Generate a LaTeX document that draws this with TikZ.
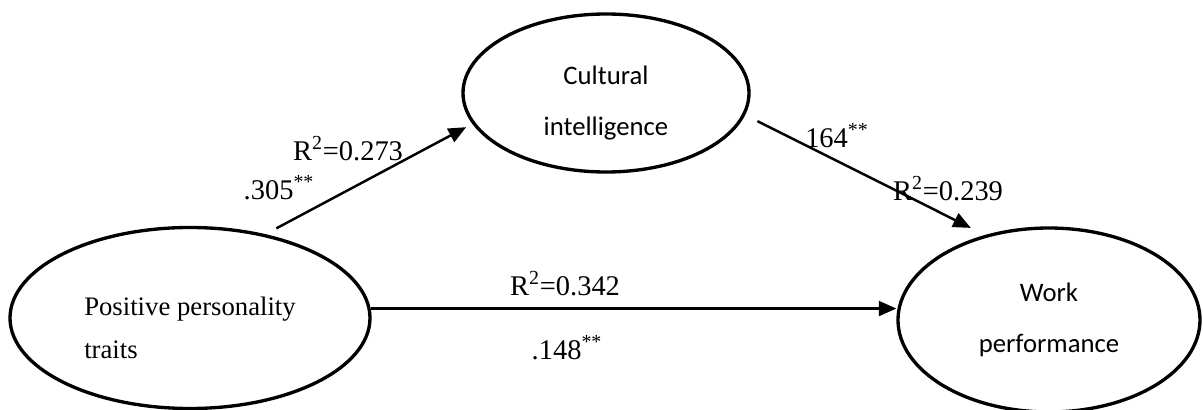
\documentclass[tikz,border=0pt]{standalone}
\usepackage{fontspec}
\setmainfont{Liberation Serif}
\newfontfamily\calibri{Carlito}
\usetikzlibrary{arrows.meta,shapes.geometric,positioning,calc}

\begin{document}
\begin{tikzpicture}[
  latent/.style={draw, ellipse, line width=1.9pt, inner sep=0pt},
  inner/.style={align=center, font=\calibri\fontsize{15.2}{29}\selectfont},
  note/.style={font=\fontsize{16.2}{19}\selectfont, inner sep=0pt},
  arr/.style={-{Triangle[length=10pt,width=8.5pt]}, line width=1.4pt}
]
\useasboundingbox (0,0) rectangle (24.06,-8.2);

\node[latent, minimum width=7.2cm, minimum height=3.62cm,
  label={[name=ppttext, align=left, font=\fontsize{15.2}{24.4}\selectfont, yshift=-0.19cm]center:Positive personality\\traits}]
  (ppt) at (3.8,-6.36) {};
\node[latent, minimum width=5.72cm, minimum height=3.16cm,
  label={[name=citext, inner, yshift=-0.21cm]center:Cultural\\intelligence}]
  (ci) at (12.12,-1.86) {};
\node[latent, minimum width=6.04cm, minimum height=3.68cm,
  label={[name=wptext, inner]center:Work\\performance}]
  (wp) at (20.98,-6.4) {};

\draw[arr, shorten <=7pt, shorten >=4pt] (ppt.48) -- (ci.193);
\draw[arr, shorten <=7.8pt, shorten >=9pt] (ci.-9.5) -- (wp.127);
\draw[arr] (ppt.3) -- (ppt.3 -| wp.west);

\node[note] (r273) at (6.96,-2.98) {R\textsuperscript{2}=0.273};
\node[note] (b305) at (5.58,-3.76) {.305\textsuperscript{**}};
\node[note] (b164) at (16.74,-2.72) {164\textsuperscript{**}};
\node[note] (r239) at (18.96,-3.78) {R\textsuperscript{2}=0.239};
\node[note] (r342) at (11.3,-5.68) {R\textsuperscript{2}=0.342};
\node[note] (b148) at (11.34,-6.96) {.148\textsuperscript{**}};

\end{tikzpicture}
\end{document}
